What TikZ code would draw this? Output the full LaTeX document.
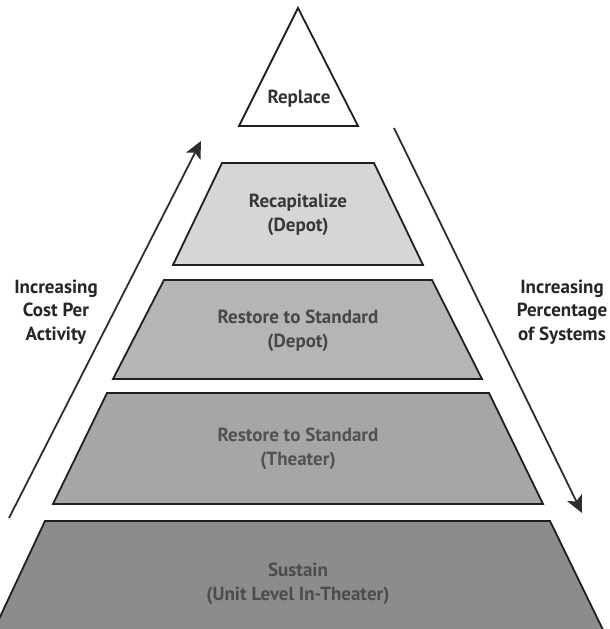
\documentclass[tikz,border=0pt]{standalone}
\usepackage{fontspec}
\setmainfont{PT Sans}
\usetikzlibrary{arrows.meta}
\begin{document}
\begin{tikzpicture}[x=1pt,y=-1pt,
  lvl/.style={draw=black!88, line width=1.8pt, line join=miter},
  lbl/.style={font=\bfseries\fontsize{19}{24}\selectfont, align=center, inner sep=0pt},
  side/.style={font=\bfseries\fontsize{19}{23.5}\selectfont, align=center, text=black!85, inner sep=0pt},
  arr/.style={draw=black!82, line width=1.8pt, -{Stealth[length=17pt,width=16pt,inset=4pt]}}]
\useasboundingbox (0,0) rectangle (610,629);
\fill[white] (0,0) rectangle (610,629);

% top triangle
\draw[lvl, fill=white] (298,8) -- (358,126) -- (239,126) -- cycle;
\node[lbl, text=black!80] (replace) at (299,99) {Replace};

% level 1
\draw[lvl, fill=black!16] (222,163) -- (374,163) -- (423,265) -- (173,265) -- cycle;
\node[lbl, text=black!78] (recap) at (298,215) {Recapitalize\\(Depot)};

% level 2
\draw[lvl, fill=black!29] (164,280) -- (432,280) -- (482,379) -- (113,379) -- cycle;
\node[lbl, text=black!72] (rsdepot) at (298,331) {Restore to Standard\\(Depot)};

% level 3
\draw[lvl, fill=black!35] (107,393) -- (489,393) -- (543,504) -- (53,504) -- cycle;
\node[lbl, text=black!68] (rstheater) at (298,449) {Restore to Standard\\(Theater)};

% level 4
\draw[lvl, fill=black!45] (45,521) -- (550,521) -- (605,634) -- (-8,634) -- cycle;
\node[lbl, text=black!70] (sustain) at (298,584) {Sustain\\(Unit Level In-Theater)};

% side arrows
\coordinate (la) at (9,518);
\coordinate (lb) at (201,141);
\coordinate (ra) at (394,128);
\coordinate (rb) at (582,513);
\draw[arr] (la) -- (lb);
\draw[arr] (ra) -- (rb);

% side labels
\node[side] (costlbl) at (56,312) {Increasing\\Cost Per\\Activity};
\node[side] (pctlbl) at (562,312) {Increasing\\Percentage\\of Systems};
\end{tikzpicture}
\end{document}
